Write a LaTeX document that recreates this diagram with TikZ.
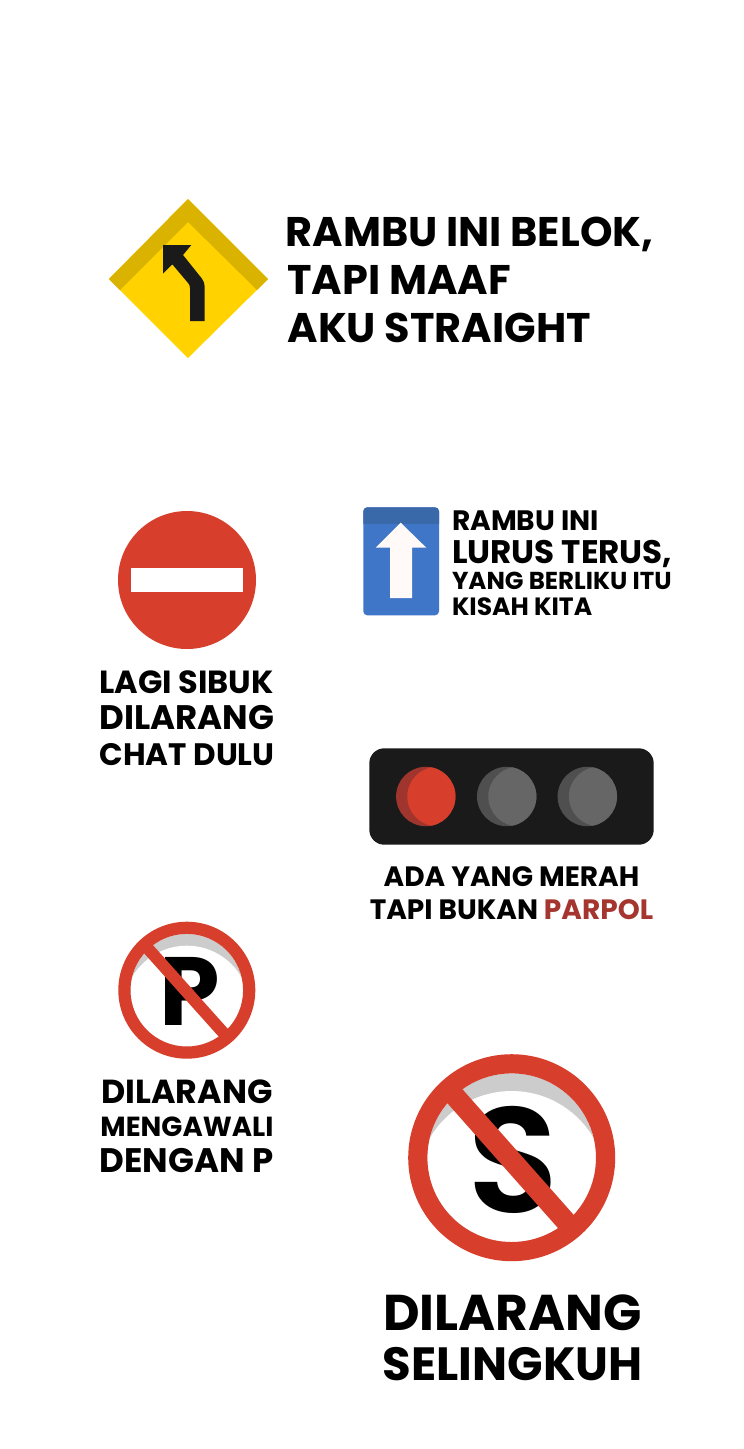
\documentclass[tikz,border=0pt]{standalone}
\usepackage{fontspec}
\setmainfont{Poppins}
\newfontfamily\popsemi{Poppins SemiBold}
\definecolor{signred}{HTML}{D73F2C}
\definecolor{darkred}{HTML}{A0352E}
\definecolor{textred}{HTML}{A5352F}
\definecolor{ylight}{HTML}{FFD200}
\definecolor{ydark}{HTML}{D9B300}
\definecolor{blueb}{HTML}{3F76C8}
\definecolor{bluet}{HTML}{3A69A9}
\definecolor{cream}{HTML}{FFFAF7}
\definecolor{ink}{HTML}{1A1A1A}
\definecolor{lampl}{HTML}{666666}
\definecolor{lampd}{HTML}{4F4F4F}
\definecolor{crescent}{HTML}{CCCCCC}
\tikzset{
  lbl/.style={inner sep=0pt,outer sep=0pt,text=black,font=\bfseries\fontsize{#1}{#1}\selectfont},
}
\begin{document}
\begin{tikzpicture}[x=1pt,y=-1pt]
\useasboundingbox (0,0) rectangle (744,1449);
\fill[white] (0,0) rectangle (744,1449);
% diamond
\fill[ylight] (188,199) -- (268,279) -- (188,358) -- (109,279) -- cycle;
\fill[ydark] (188,199) -- (268,279) -- (257,290) -- (188,222) -- (120,290) -- (109,279) -- cycle;
\fill[ink] (163,245) -- (191.3,245) -- (183,255) -- (201.7,278.3) .. controls (203.7,281) and (204.7,283.5) .. (204.7,286.7) -- (204.7,321) -- (190,321) -- (190,288.3) .. controls (190,286) and (189.5,284.8) .. (188.3,283.3) -- (172.3,264.3) -- (163,273.7) -- cycle;
\node[lbl=41.4,anchor=base west] (t1) at (285.5,246) {RAMBU INI BELOK,};
\node[lbl=41.4,anchor=base west] (t2) at (287.5,294) {TAPI MAAF};
\node[lbl=41.4,anchor=base west] (t3) at (287.5,342) {AKU STRAIGHT};
% no entry
\fill[signred] (187,580) circle[radius=69];
\fill[white] (131,568) rectangle (243,592);
\node[lbl=32,anchor=base] (n1) at (186.5,693) {LAGI SIBUK};
\node[lbl=34,anchor=base] (n2) at (187,729.5) {DILARANG};
\node[lbl=31,anchor=base] (n3) at (187,765) {CHAT DULU};
% blue
\begin{scope}
\clip[rounded corners=4pt] (363.3,507.3) rectangle (439,615.3);
\fill[blueb] (363,507) rectangle (440,616);
\fill[bluet] (363,507) rectangle (440,524.3);
\end{scope}
\fill[cream] (400.7,522.7) -- (426.3,547.7) -- (412,547.7) -- (412,598) -- (390,598) -- (390,547.7) -- (375.7,547.7) -- cycle;
\node[lbl=28.1,anchor=base west] (b1) at (452,530) {RAMBU INI};
\node[lbl=32.6,anchor=base west] (b2) at (452,563) {LURUS TERUS,};
\node[lbl=24.5,anchor=base west] (b3) at (452,589.5) {YANG BERLIKU ITU};
\node[lbl=25,anchor=base west] (b4) at (452,615) {KISAH KITA};
% traffic
\fill[ink,rounded corners=15pt] (369.3,748.3) rectangle (653.7,844.7);
\fill[darkred] (425.8,796.5) circle[radius=29.7];
\begin{scope}
\clip (425.8,796.5) circle[radius=29.7];
\fill[signred] (437,796.5) circle[radius=29.7];
\end{scope}
\fill[lampd] (506.7,796.5) circle[radius=29.7];
\begin{scope}
\clip (506.7,796.5) circle[radius=29.7];
\fill[lampl] (518,796.5) circle[radius=29.7];
\end{scope}
\fill[lampd] (587.3,796.5) circle[radius=29.7];
\begin{scope}
\clip (587.3,796.5) circle[radius=29.7];
\fill[lampl] (598.6,796.5) circle[radius=29.7];
\end{scope}
\node[lbl=28,anchor=base] (l1) at (511.5,886) {ADA YANG MERAH};
\node[lbl=28,anchor=base] (l2) at (511.5,919) {TAPI BUKAN \textcolor{textred}{PARPOL}};
% P sign
\begin{scope}
\clip (186.8,990.2) circle[radius=56.3];
\fill[crescent] (186.8,990.2) circle[radius=56.3];
\fill[white] (186.8,1008.9) circle[radius=63.2];
\end{scope}
\node[lbl=97,anchor=base] (p) at (190,1025.5) {P};
\draw[signred,line width=12pt] (147,947.5) -- (224,1033.5);
\fill[signred,even odd rule] (186.8,990.2) circle[radius=68.5] (186.8,990.2) circle[radius=56.3];
\node[lbl=33.3,anchor=base] (d1) at (187,1103) {DILARANG};
\node[lbl=27.6,anchor=base] (d2) at (187,1136.5) {MENGAWALI};
\node[lbl=34,anchor=base] (d3) at (186.5,1172) {DENGAN P};
% S sign
\begin{scope}
\clip (511.7,1157.7) circle[radius=84.3];
\fill[crescent] (511.7,1157.7) circle[radius=84.3];
\fill[white] (511.7,1185.7) circle[radius=94.7];
\end{scope}
\node[inner sep=0pt,outer sep=0pt,text=black,font=\popsemi\fontsize{150}{150}\selectfont,anchor=base] (s) at (513.5,1212) {S};
\draw[signred,line width=20.5pt] (451,1091.8) -- (569.7,1225.8);
\fill[signred,even odd rule] (511.7,1157.7) circle[radius=103.5] (511.7,1157.7) circle[radius=84.3];
\node[lbl=50.3,anchor=base] (e1) at (512.5,1330) {DILARANG};
\node[lbl=46.6,anchor=base] (e2) at (512.5,1380) {SELINGKUH};
\end{tikzpicture}
\end{document}
